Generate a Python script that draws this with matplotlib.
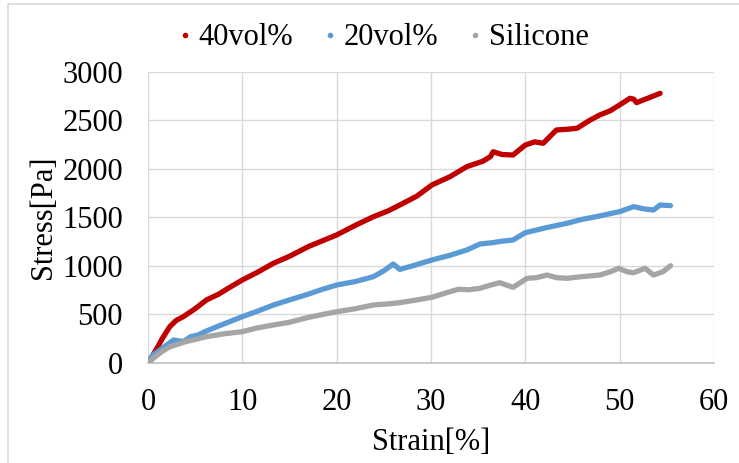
import matplotlib.pyplot as plt
from matplotlib.patches import Rectangle

plt.rcParams['font.family'] = ['Liberation Serif', 'DejaVu Serif']

# strain [%] / stress [Pa] readings for each sample
strain_40 = [0, 0.5, 1.0, 1.5, 2.3, 3.0, 3.75, 5.0, 6.2, 7.5, 8.5, 10, 11.5, 13.3, 15, 17, 18.5,
             20, 22, 23.9, 25.5, 26.7, 28.5, 30.1, 32, 33.8, 35.5, 36.3, 36.6, 37.5, 38.7, 40,
             41.0, 41.9, 43.3, 44.5, 45.5, 46.8, 47.9, 49.0, 50, 51.1, 51.5, 51.8, 53.0, 54.3]
stress_40 = [0, 80, 160, 250, 374, 440, 478, 560, 650, 710, 770, 856, 930, 1028, 1100, 1200, 1260,
             1320, 1420, 1508, 1570, 1629, 1720, 1835, 1920, 2024, 2080, 2127, 2178, 2150, 2144, 2247,
             2280, 2265, 2402, 2410, 2420, 2500, 2557, 2600, 2660, 2729, 2720, 2684, 2730, 2780]

strain_20 = [0, 0.5, 1.5, 2.7, 3.75, 4.5, 5.3, 6.2, 7.3, 8.5, 10, 11.5, 13.3, 15, 17, 18.5, 20,
             22, 23.9, 25.0, 26, 26.7, 28, 30.1, 32, 33.8, 35.2, 36.5, 37.5, 38.7, 40, 42, 44.4,
             46, 47.9, 49, 50, 51.5, 52.5, 53.6, 54.3, 55.4]
stress_20 = [0, 82, 150, 237, 220, 270, 289, 330, 374, 420, 478, 530, 598, 650, 710, 760, 804,
             840, 890, 950, 1020, 965, 1000, 1062, 1110, 1165, 1227, 1240, 1255, 1268, 1343, 1390, 1440,
             1480, 1516, 1540, 1560, 1612, 1590, 1577, 1629, 1622]

strain_si = [0, 0.7, 1.5, 2.33, 4.0, 6.2, 8.0, 10, 11.5, 13.3, 15, 17, 18.5, 20, 22, 23.9, 25.5,
             26.7, 28.5, 30.1, 31.5, 32.9, 34, 35.2, 36.2, 37.3, 38.7, 40.2, 41.2, 42.3, 43.3, 44.4,
             46, 47.9, 49.0, 49.9, 50.8, 51.5, 52.7, 53.6, 54.6, 55.4]
stress_si = [0, 60, 120, 168, 220, 271, 300, 323, 360, 392, 420, 470, 500, 529, 560, 598, 610,
             622, 650, 677, 720, 760, 755, 770, 800, 828, 780, 873, 880, 907, 880, 873,
             890, 907, 940, 976, 940, 931, 976, 907, 941, 1003]

series = [
    ('40vol%', strain_40, stress_40, '#c00000'),
    ('20vol%', strain_20, stress_20, '#5b9bd5'),
    ('Silicone', strain_si, stress_si, '#a5a5a5'),
]

fig = plt.figure(figsize=(7.39, 4.63), dpi=100)
ax = fig.add_axes([0.2003, 0.216, 0.7657, 0.6285])

for name, x, y, c in series:
    ax.plot(x, y, color=c, lw=3.8, solid_joinstyle='round', solid_capstyle='round', zorder=3)
    ax.plot([], [], ls='none', marker='o', ms=3, color=c, label=name)

ax.set_xlim(0, 60)
ax.set_ylim(0, 3000)
ax.set_xticks(range(0, 61, 10))
ax.set_yticks(range(0, 3001, 500))
ax.grid(True, color='#d9d9d9', lw=1)
ax.set_axisbelow(True)
for s in ['top', 'right', 'left']:
    ax.spines[s].set_visible(False)
ax.spines['bottom'].set_color('#bfbfbf')
ax.spines['bottom'].set_linewidth(1.2)
ax.tick_params(length=0, labelsize=22)
ax.tick_params(axis='x', pad=18)
ax.tick_params(axis='y', pad=18)

ax.set_xlabel('Strain[%]', fontsize=22, labelpad=8)
ax.set_ylabel('Stress[Pa]', fontsize=22, labelpad=3)

fig.legend(loc='center', bbox_to_anchor=(0.518, 0.918), ncol=3, frameon=False,
           fontsize=22, handlelength=0.5, handletextpad=0.2, columnspacing=0.95)

# outer chart frame
fig.patches.append(Rectangle((8 / 739, -0.05), 1.1, 1.05 - 4 / 463, transform=fig.transFigure,
                             fill=False, edgecolor='#d9d9d9', lw=1.2))

fig.savefig('out.png', dpi=100)
